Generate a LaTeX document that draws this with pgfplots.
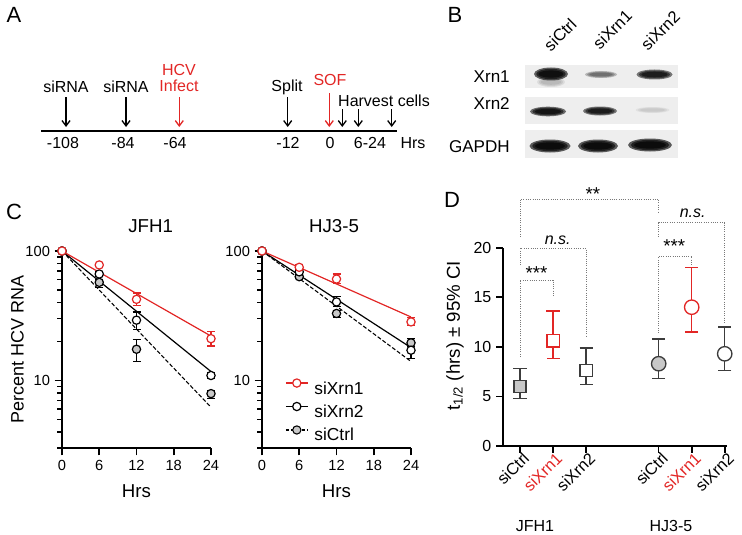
\documentclass[border=0pt]{standalone}
\usepackage{pgfplots}
\pgfplotsset{compat=1.18}
\usepackage{fontspec}
\setmainfont{Liberation Sans}
\usetikzlibrary{arrows.meta}
\definecolor{myred}{RGB}{226,38,37}
\definecolor{mgray}{RGB}{200,200,200}
\definecolor{dgray}{RGB}{60,60,60}
\definecolor{blotbg}{RGB}{238,238,238}
\definecolor{dotc}{RGB}{120,120,120}
\newcommand{\fs}[1]{\fontsize{#1}{#1}\selectfont}
% band: x y halfwidth halfheight opacity (px units)
\newcommand{\band}[5]{%
  \fill[black, opacity=#5] (axis cs:#1,#2) ellipse [x radius=#3*0.75pt, y radius=#4*0.75pt];
  \fill[black, opacity=#5] (axis cs:#1,#2) ellipse [x radius=#3*0.65pt, y radius=#4*0.6pt];
  \fill[black, opacity=#5] (axis cs:#1,#2) ellipse [x radius=#3*0.55pt, y radius=#4*0.42pt];
}
\pgfplotsset{
  errC/.style={/pgfplots/error bars/y dir=both, /pgfplots/error bars/y explicit,
    /pgfplots/error bars/error bar style={line width=0.9pt, #1},
    /pgfplots/error bars/error mark options={rotate=90, mark size=3pt, line width=0.9pt, #1}},
  errD/.style={/pgfplots/error bars/y dir=both, /pgfplots/error bars/y explicit,
    /pgfplots/error bars/error bar style={line width=1.1pt, #1},
    /pgfplots/error bars/error mark options={rotate=90, mark size=4.9pt, line width=1.1pt, #1}},
}
\begin{document}
\begin{tikzpicture}
\useasboundingbox (0pt,0pt) rectangle (556.5pt,401.25pt);

% ---------- canvas: panels A, B, letters, titles ----------
\begin{axis}[at={(0pt,0pt)}, anchor=south west, width=556.5pt, height=401.25pt, scale only axis,
  xmin=0, xmax=742, ymin=0, ymax=535, y dir=reverse, hide axis, clip=false]
\node[font=\fs{16.5}, inner sep=0pt] at (axis cs:14,15) {A};
\node[font=\fs{16.5}, inner sep=0pt] at (axis cs:455,15) {B};
\node[font=\fs{16.5}, inner sep=0pt] at (axis cs:14,212) {C};
\node[font=\fs{16.5}, inner sep=0pt] at (axis cs:452,200) {D};
% Panel A timeline
\draw[line width=2.2pt] (axis cs:41,131) -- (axis cs:397,131);
\draw[line width=1pt, -{Straight Barb[length=4pt,width=6pt]}] (axis cs:66,97) -- (axis cs:66,127);
\draw[line width=1pt, -{Straight Barb[length=4pt,width=6pt]}] (axis cs:126,97) -- (axis cs:126,127);
\draw[myred, line width=1pt, -{Straight Barb[length=4pt,width=6pt]}] (axis cs:179.3,97) -- (axis cs:179.3,127);
\draw[line width=1pt, -{Straight Barb[length=4pt,width=6pt]}] (axis cs:287.7,97) -- (axis cs:287.7,127);
\draw[myred, line width=1pt, -{Straight Barb[length=4pt,width=6pt]}] (axis cs:329.3,93) -- (axis cs:329.3,127);
\draw[line width=1pt, -{Straight Barb[length=4pt,width=6pt]}] (axis cs:342.3,109) -- (axis cs:342.3,127);
\draw[line width=1pt, -{Straight Barb[length=4pt,width=6pt]}] (axis cs:358.3,109) -- (axis cs:358.3,127);
\draw[line width=1pt, -{Straight Barb[length=4pt,width=6pt]}] (axis cs:391.7,109) -- (axis cs:391.7,127);
\node[font=\fs{12}, anchor=base, inner sep=0pt] at (axis cs:66,92.7) {siRNA};
\node[font=\fs{12}, anchor=base, inner sep=0pt] at (axis cs:126,92.7) {siRNA};
\node[font=\fs{12}, anchor=base, inner sep=0pt, text=myred] at (axis cs:179,75.7) {HCV};
\node[font=\fs{12}, anchor=base, inner sep=0pt, text=myred] at (axis cs:179,92) {Infect};
\node[font=\fs{12}, anchor=base, inner sep=0pt] at (axis cs:287,91.7) {Split};
\node[font=\fs{12}, anchor=base, inner sep=0pt, text=myred] at (axis cs:330,85.7) {SOF};
\node[font=\fs{12}, anchor=base, inner sep=0pt] at (axis cs:384,106.5) {Harvest cells};
\node[font=\fs{12}, anchor=base, inner sep=0pt] at (axis cs:63,148.2) {-108};
\node[font=\fs{12}, anchor=base, inner sep=0pt] at (axis cs:123,148.2) {-84};
\node[font=\fs{12}, anchor=base, inner sep=0pt] at (axis cs:175,148.2) {-64};
\node[font=\fs{12}, anchor=base, inner sep=0pt] at (axis cs:288,148.2) {-12};
\node[font=\fs{12}, anchor=base, inner sep=0pt] at (axis cs:330,148.2) {0};
\node[font=\fs{12}, anchor=base, inner sep=0pt] at (axis cs:370,148.2) {6-24};
\node[font=\fs{12}, anchor=base, inner sep=0pt] at (axis cs:413,148.2) {Hrs};
% Panel B blot
\fill[blotbg] (axis cs:525,65) rectangle (axis cs:678,88);
\fill[blotbg] (axis cs:525,97) rectangle (axis cs:678,124);
\fill[blotbg] (axis cs:525,130) rectangle (axis cs:678,158);
\band{551}{74}{17}{6.5}{0.6}
\band{551}{82}{14}{5}{0.08}
\band{601}{74.5}{16}{3.5}{0.22}
\band{654.5}{74.5}{18}{5}{0.5}
\band{548}{111.5}{18}{4.8}{0.55}
\band{600}{111}{17}{4.5}{0.5}
\band{652.5}{110}{17}{3}{0.05}
\band{550}{146}{20.5}{6.5}{0.62}
\band{598}{146}{20}{6.5}{0.62}
\band{650}{145}{22}{6.5}{0.62}
\node[font=\fs{12.8}, anchor=base east, inner sep=0pt] at (axis cs:510,82.7) {Xrn1};
\node[font=\fs{12.8}, anchor=base east, inner sep=0pt] at (axis cs:510,109.7) {Xrn2};
\node[font=\fs{12.8}, anchor=base east, inner sep=0pt] at (axis cs:510,152.4) {GAPDH};
\node[font=\fs{12.5}, anchor=south west, inner sep=0pt, rotate=45] at (axis cs:551,53) {siCtrl};
\node[font=\fs{12.5}, anchor=south west, inner sep=0pt, rotate=45] at (axis cs:600,51) {siXrn1};
\node[font=\fs{12.5}, anchor=south west, inner sep=0pt, rotate=45] at (axis cs:648,52) {siXrn2};
% Panel C titles, Panel D group labels
\node[font=\fs{14}, inner sep=0pt] at (axis cs:150.7,226) {JFH1};
\node[font=\fs{14}, inner sep=0pt] at (axis cs:334,226) {HJ3-5};
\node[font=\fs{12}, inner sep=0pt] at (axis cs:535,526) {JFH1};
\node[font=\fs{12}, inner sep=0pt] at (axis cs:671,526) {HJ3-5};
\end{axis}

% ---------- Panel C, JFH1 ----------
\begin{axis}[ymode=log, at={(46.5pt,65.25pt)}, anchor=south west, width=111.75pt, height=147.75pt, scale only axis,
    xmin=0, xmax=24, ymin=3, ymax=100,
    axis x line*=bottom, axis y line*=left,
    axis line style={line width=1.5pt},
    xtick={0,6,12,18,24}, ytick={10,100}, yticklabels={10,100},
    extra y ticks={3,4,5,6,7,8,9,20,30,40,50,60,70,80,90}, extra y tick labels={},
    extra y tick style={major tick length=3.5pt, tick style={line width=1pt, black}},
    tick align=outside, major tick length=5.5pt,
    tick style={line width=1.2pt, black},
    ticklabel style={font=\fs{11}},
    /pgf/number format/assume math mode=true,
    xlabel={Hrs}, xlabel style={font=\fs{14}, at={(axis description cs:0.5,-0.221)}, anchor=center},
    clip=false,
  ylabel={Percent HCV RNA}, ylabel style={font=\fs{13.5}, at={(axis description cs:-0.299,0.5)}, anchor=center}]
\addplot[black, line width=0.8pt, dash pattern=on 3pt off 1.5pt] coordinates {(0,100) (24,6.2)};
\addplot[black, line width=0.9pt] coordinates {(0,100) (24,11.7)};
\addplot[myred, line width=0.9pt] coordinates {(0,100) (24,22)};
\addplot[only marks, mark=*, mark size=3.1pt, mark options={fill=mgray, draw=black, line width=0.9pt}, errC=black]
  coordinates {(0,100) (6,57.2) += (0,3) -= (0,5) (12,17.4) += (0,3.3) -= (0,3.4) (24,7.9) += (0,0.5) -= (0,0.65)};
\addplot[only marks, mark=*, mark size=3.1pt, mark options={fill=white, draw=black, line width=0.9pt}, errC=black]
  coordinates {(0,100) (6,66.4) += (0,3) -= (0,3) (12,29.2) += (0,4.6) -= (0,4.5) (24,10.9) += (0,0.5) -= (0,0.5)};
\addplot[only marks, mark=*, mark size=3.1pt, mark options={fill=white, draw=myred, line width=0.9pt}, errC=myred]
  coordinates {(0,100) (6,78) += (0,2) -= (0,2) (12,42.3) += (0,5) -= (0,4.5) (24,21) += (0,2.8) -= (0,2.6)};
\end{axis}

% ---------- Panel C, HJ3-5 ----------
\begin{axis}[ymode=log, at={(196.5pt,65.25pt)}, anchor=south west, width=111.75pt, height=147.75pt, scale only axis,
    xmin=0, xmax=24, ymin=3, ymax=100,
    axis x line*=bottom, axis y line*=left,
    axis line style={line width=1.5pt},
    xtick={0,6,12,18,24}, ytick={10,100}, yticklabels={10,100},
    extra y ticks={3,4,5,6,7,8,9,20,30,40,50,60,70,80,90}, extra y tick labels={},
    extra y tick style={major tick length=3.5pt, tick style={line width=1pt, black}},
    tick align=outside, major tick length=5.5pt,
    tick style={line width=1.2pt, black},
    ticklabel style={font=\fs{11}},
    /pgf/number format/assume math mode=true,
    xlabel={Hrs}, xlabel style={font=\fs{14}, at={(axis description cs:0.5,-0.221)}, anchor=center},
    clip=false,
  legend style={draw=none, fill=none, at={(0.154,0.352)}, anchor=north west, font=\fs{13},
    inner sep=0pt, row sep=6.25pt, column sep=4.5pt,
    nodes={inner sep=0pt, text height=9.5pt, text depth=0pt}},
  legend cell align=left,
  legend image code/.code={\draw[mark repeat=2,mark phase=2,#1] plot coordinates {(0pt,3.5pt) (8.25pt,3.5pt) (16.5pt,3.5pt)};}]
\addlegendimage{myred, line width=0.9pt, mark=*, mark size=3.1pt, mark options={fill=white, solid}}
\addlegendentry{siXrn1}
\addlegendimage{black, line width=0.9pt, mark=*, mark size=3.1pt, mark options={fill=white, solid}}
\addlegendentry{siXrn2}
\addlegendimage{black, line width=0.8pt, dash pattern=on 2.5pt off 1.5pt, mark=*, mark size=3.1pt, mark options={fill=mgray, solid}}
\addlegendentry{siCtrl}
\addplot[black, line width=0.8pt, dash pattern=on 3pt off 1.5pt, forget plot] coordinates {(0,100) (24,14)};
\addplot[black, line width=0.9pt, forget plot] coordinates {(0,100) (24,17.9)};
\addplot[myred, line width=0.9pt, forget plot] coordinates {(0,100) (24,30.9)};
\addplot[only marks, mark=*, mark size=3.1pt, mark options={fill=mgray, draw=black, line width=0.9pt}, forget plot, errC=black]
  coordinates {(0,100) (6,63.3) += (0,2) -= (0,2) (12,32.9) += (0,2) -= (0,2.3) (24,19.5) += (0,1.5) -= (0,1.3)};
\addplot[only marks, mark=*, mark size=3.1pt, mark options={fill=white, draw=black, line width=0.9pt}, forget plot, errC=black]
  coordinates {(0,100) (6,69) += (0,3) -= (0,3) (12,40.4) += (0,3.9) -= (0,3.1) (24,17.1) += (0,1.8) -= (0,2.4)};
\addplot[only marks, mark=*, mark size=3.1pt, mark options={fill=white, draw=myred, line width=0.9pt}, forget plot, errC=myred]
  coordinates {(0,100) (6,74.8) += (0,4) -= (0,4) (12,60.7) += (0,5.7) -= (0,4.7) (24,28.3) += (0,2.3) -= (0,1.7)};
\end{axis}

% ---------- Panel D ----------
\begin{axis}[at={(377.03pt,66.75pt)}, anchor=south west, width=168pt, height=148.7pt, scale only axis,
  xmin=0.476, xmax=7.26, ymin=0, ymax=20,
  axis x line*=bottom, axis y line*=left, axis line style={line width=1.5pt},
  xtick={1,2,3,5.2,6.2,7.2},
  xticklabels={siCtrl,\textcolor{myred}{siXrn1},siXrn2,siCtrl,\textcolor{myred}{siXrn1},siXrn2},
  xticklabel style={rotate=45, anchor=north east, font=\fs{12.3}, inner sep=1pt, xshift=3pt, yshift=1pt},
  ytick={0,5,10,15,20},
  yticklabel style={font=\fs{12}},
  tick align=outside, major tick length=5pt, tick style={line width=1.2pt, black},
  /pgf/number format/assume math mode=true,
  ylabel={t\textsubscript{1/2} (hrs) ± 95\% CI},
  ylabel style={font=\fs{14}, at={(axis description cs:-0.213,0.557)}, anchor=center},
  clip=false]
% significance brackets
\draw[dotc, densely dotted, line width=0.7pt] (axis cs:1,21.1) -- (axis cs:1,24.87) -- (axis cs:5.2,24.87) -- (axis cs:5.2,23.5);
\draw[dotc, densely dotted, line width=0.7pt] (axis cs:5.2,21.1) -- (axis cs:5.2,22.5) -- (axis cs:7.2,22.5) -- (axis cs:7.2,12.4);
\draw[dotc, densely dotted, line width=0.7pt] (axis cs:5.2,11.4) -- (axis cs:5.2,19.15) -- (axis cs:6.2,19.15) -- (axis cs:6.2,18.25);
\draw[dotc, densely dotted, line width=0.7pt] (axis cs:1,18.25) -- (axis cs:1,19.93) -- (axis cs:3,19.93) -- (axis cs:3,11.0);
\draw[dotc, densely dotted, line width=0.7pt] (axis cs:1,9.0) -- (axis cs:1,16.73) -- (axis cs:2,16.73) -- (axis cs:2,15.0);
\node[font=\fs{14}, anchor=base, inner sep=0pt] at (axis cs:3.21,24.8) {**};
\node[font=\fs{12}\itshape, anchor=base, inner sep=0pt] at (axis cs:6.23,23.03) {n.s.};
\node[font=\fs{12}\itshape, anchor=base, inner sep=0pt] at (axis cs:2.14,20.36) {n.s.};
\node[font=\fs{14}, anchor=base, inner sep=0pt] at (axis cs:1.5,16.75) {***};
\node[font=\fs{14}, anchor=base, inner sep=0pt] at (axis cs:5.67,19.5) {***};
% data
\addplot[only marks, mark=square*, mark size=4.6pt, mark options={fill=mgray, draw=dgray, line width=1pt}, errD=dgray]
  coordinates {(1,6.0) += (0,1.8) -= (0,1.2)};
\addplot[only marks, mark=square*, mark size=4.6pt, mark options={fill=white, draw=myred, line width=1pt}, errD=myred]
  coordinates {(2,10.6) += (0,3.0) -= (0,1.8)};
\addplot[only marks, mark=square*, mark size=4.6pt, mark options={fill=white, draw=dgray, line width=1pt}, errD=dgray]
  coordinates {(3,7.6) += (0,2.3) -= (0,1.4)};
\addplot[only marks, mark=*, mark size=5.4pt, mark options={fill=mgray, draw=dgray, line width=1pt}, errD=dgray]
  coordinates {(5.2,8.3) += (0,2.5) -= (0,1.5)};
\addplot[only marks, mark=*, mark size=5.4pt, mark options={fill=white, draw=myred, line width=1pt}, errD=myred]
  coordinates {(6.2,14.0) += (0,4.0) -= (0,2.5)};
\addplot[only marks, mark=*, mark size=5.4pt, mark options={fill=white, draw=dgray, line width=1pt}, errD=dgray]
  coordinates {(7.2,9.3) += (0,2.7) -= (0,1.7)};
\end{axis}
\end{tikzpicture}
\end{document}
